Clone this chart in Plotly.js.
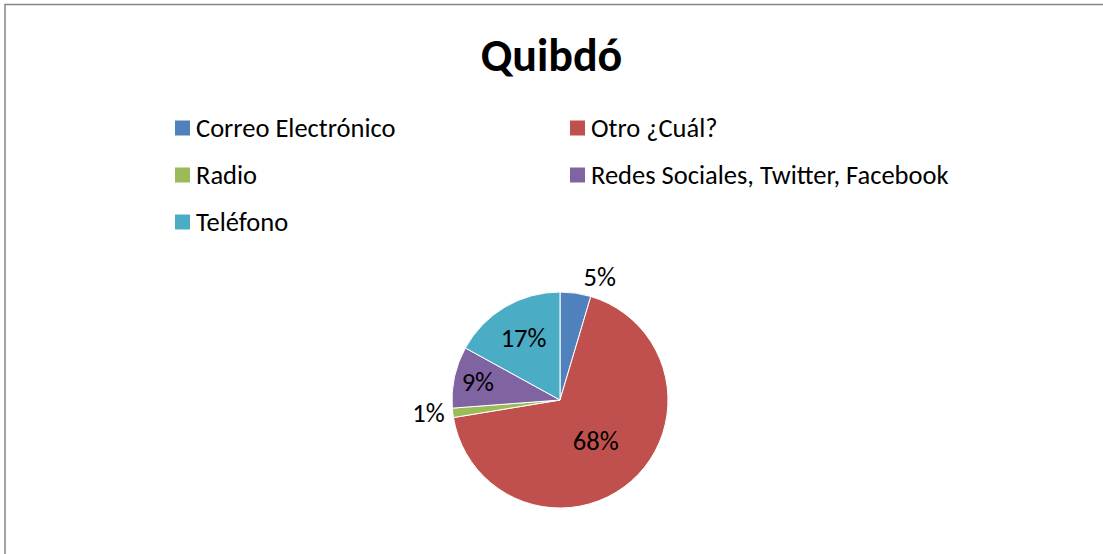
<!DOCTYPE html>
<html>
<head>
<meta charset="utf-8">
<script src="https://cdn.plot.ly/plotly-3.0.1.min.js"></script>
<style>html,body{margin:0;padding:0;background:#fff;}#chart{width:1103px;height:554px;}</style>
</head>
<body>
<div id="chart"></div>
<script>
// Data
const chartTitle = 'Quibdó';
const categories = ['Correo Electrónico', 'Otro ¿Cuál?', 'Radio', 'Redes Sociales, Twitter, Facebook', 'Teléfono'];
const shares = [4.6, 67.8, 1.4, 9.2, 17.0];
const sliceColors = ['#4F81BD', '#C0504D', '#9BBB59', '#8064A2', '#4BACC6'];
const labelPlacement = ['outside', 'inside', 'outside', 'inside', 'inside'];

const W = 1103, H = 554;
const FONT = 'Carlito, "Open Sans", "Noto Sans", sans-serif';
const px = x => x / W;
const py = y => 1 - y / H;

// Pie geometry (pixels)
const cx = 560, cy = 400, r = 108;

const trace = {
  type: 'pie',
  labels: categories,
  values: shares,
  sort: false,
  direction: 'clockwise',
  rotation: 0,
  marker: { colors: sliceColors, line: { color: '#ffffff', width: 1 } },
  texttemplate: '%{percent:.0%}',
  textposition: labelPlacement,
  insidetextorientation: 'horizontal',
  textfont: { family: FONT, size: 26.5, color: '#000000' },
  outsidetextfont: { family: FONT, size: 26.5, color: '#000000' },
  automargin: false,
  showlegend: false,
  hoverinfo: 'label+percent',
  domain: { x: [px(cx - r), px(cx + r)], y: [py(cy + r), py(cy - r)] }
};

// Custom legend built from categories / colours (two columns)
const shapes = [{
  type: 'rect', xref: 'paper', yref: 'paper',
  x0: px(5), x1: px(1110), y0: py(560), y1: py(4.5),
  line: { color: '#868686', width: 1.5 }, fillcolor: 'rgba(0,0,0,0)', layer: 'below'
}];
const annotations = [];
const colX = [175, 570];
const rowY = [128, 175, 222];
categories.forEach((c, i) => {
  const col = i % 2, row = Math.floor(i / 2);
  const mx = colX[col], my = rowY[row];
  shapes.push({
    type: 'rect', xref: 'paper', yref: 'paper',
    x0: px(mx), x1: px(mx + 15), y0: py(my + 7.5), y1: py(my - 7.5),
    fillcolor: sliceColors[i], line: { width: 0 }
  });
  annotations.push({
    xref: 'paper', yref: 'paper', x: px(mx + 19), y: py(my),
    xanchor: 'left', yanchor: 'middle', showarrow: false,
    text: c, font: { family: FONT, size: 26.5, color: '#000000' }
  });
});

const layout = {
  width: W, height: H,
  margin: { l: 0, r: 0, t: 0, b: 0 },
  paper_bgcolor: '#ffffff',
  title: {
    text: '<b>' + chartTitle + '</b>',
    x: 0.5, xanchor: 'center', y: py(55), yanchor: 'middle',
    font: { family: FONT, size: 46, color: '#000000' }
  },
  shapes: shapes,
  annotations: annotations,
  showlegend: false
};

Plotly.newPlot('chart', [trace], layout, { displayModeBar: false, staticPlot: true });
</script>
</body>
</html>
